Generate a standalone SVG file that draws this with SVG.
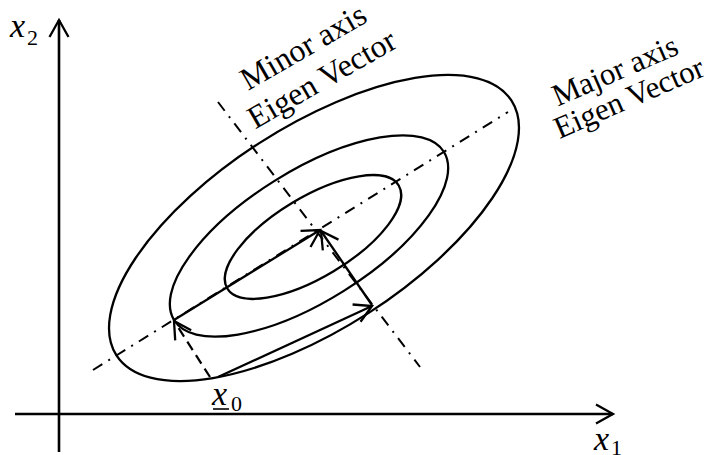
<svg xmlns="http://www.w3.org/2000/svg" width="706" height="455" viewBox="0 0 706 455">
<style>
.ln{fill:none;stroke:#000;stroke-width:2.3}
.ax{fill:none;stroke:#000;stroke-width:2.6}
.dd{fill:none;stroke:#000;stroke-width:2;stroke-dasharray:11 7 2 7}
.ds{fill:none;stroke:#000;stroke-width:2.2;stroke-dasharray:10 6}
.t{font-family:"Liberation Serif","Times New Roman",serif;font-size:32px;fill:#000}
.r{font-size:31px}
.v{font-family:"Liberation Serif","Times New Roman",serif;font-style:italic;font-size:34px;fill:#000}
.s{font-family:"Liberation Serif","Times New Roman",serif;font-size:22px;fill:#000}
</style>
<defs>
<marker id="ah" markerUnits="userSpaceOnUse" markerWidth="40" markerHeight="40" refX="0" refY="0" orient="auto" style="overflow:visible">
<path d="M-17,-9.5 L0,0 L-17,9.5" fill="none" stroke="#000" stroke-width="2.3"/>
</marker>
</defs>
<g id="axes">
<line class="ax" x1="59" y1="452" x2="59" y2="20" marker-end="url(#ah)"/>
<line class="ax" x1="15" y1="414" x2="613" y2="414" marker-end="url(#ah)"/>
</g>
<g id="ellipses">
<ellipse id="outer" class="ln" cx="314" cy="228" rx="235" ry="101" transform="rotate(-32.8 314 228)"/>
<ellipse id="middle" class="ln" cx="309" cy="236" rx="159" ry="65" transform="rotate(-32 309 236)"/>
<ellipse id="inner" class="ln" cx="313" cy="237" rx="100" ry="40" transform="rotate(-31 313 237)"/>
</g>
<g id="eigen-axes">
<line class="dd" x1="93" y1="370" x2="508" y2="112"/>
<line class="dd" x1="218" y1="102" x2="420" y2="367"/>
</g>
<g id="connectors">
<line class="ds" x1="210" y1="377" x2="174" y2="321" marker-end="url(#ah)"/>
<line class="ln" x1="174" y1="320" x2="320" y2="230" marker-end="url(#ah)"/>
<line class="ln" x1="372" y1="305" x2="321" y2="231" marker-end="url(#ah)"/>
<line class="ln" x1="218" y1="377" x2="372" y2="306" marker-end="url(#ah)"/>
</g>
<g id="labels">
<text class="v" x="10" y="37">x</text><text class="s" x="27" y="45">2</text>
<text class="v" x="594" y="450">x</text><text class="s" x="611" y="455">1</text>
<text class="v" x="212" y="405">x</text><text class="s" x="231" y="411">0</text>
<line x1="213" y1="409" x2="229" y2="409" stroke="#000" stroke-width="1.6"/>
<text class="t" text-anchor="middle" transform="translate(308.5 56) rotate(-30)">Minor axis</text>
<text class="t" text-anchor="middle" transform="translate(327 88) rotate(-30)">Eigen Vector</text>
<text class="t r" text-anchor="middle" transform="translate(619 80) rotate(-23.5)">Major axis</text>
<text class="t r" text-anchor="middle" transform="translate(633 107) rotate(-23.5)">Eigen Vector</text>
</g>
</svg>
